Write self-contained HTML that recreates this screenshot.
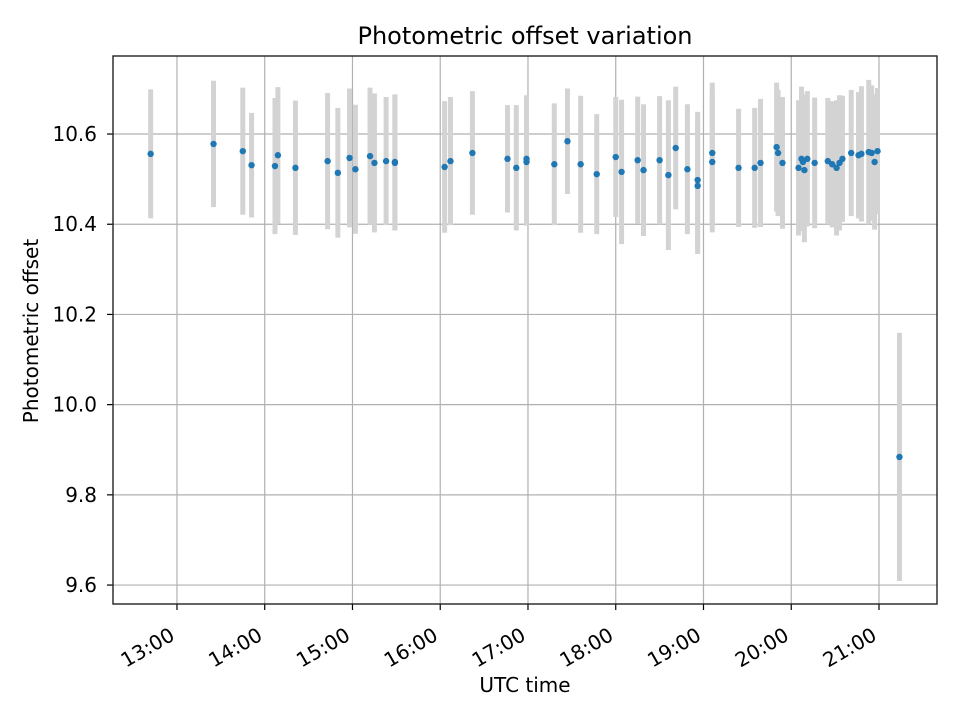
<!DOCTYPE html>
<html><head><meta charset="utf-8"><style>
html,body{margin:0;padding:0;background:#fff}
svg text{font-family:"DejaVu Sans","Liberation Sans",sans-serif;fill:#000}
</style></head><body>
<svg id="chart" width="960" height="720" viewBox="0 0 960 720" xmlns="http://www.w3.org/2000/svg">
<rect width="960" height="720" fill="#fff"/>
<text x="525" y="44" font-size="24" text-anchor="middle">Photometric offset variation</text>
<g id="grid"></g><g id="bars"></g><g id="pts"></g><g id="axes"></g>
<text x="525" y="692" font-size="20" text-anchor="middle">UTC time</text>
<text transform="translate(38,331) rotate(-90)" font-size="20" text-anchor="middle">Photometric offset</text>
</svg>
<script>
const times=["12:42","13:25","13:45","13:51","14:07","14:09","14:21","14:43","14:50","14:58","15:02","15:12","15:15","15:23","15:29","15:29","16:03","16:07","16:22","16:46","16:52","16:59","16:59","17:18","17:27","17:36","17:47","18:00","18:04","18:15","18:19","18:30","18:36","18:41","18:49","18:56","18:56","19:06","19:06","19:24","19:35","19:39","19:50","19:51","19:54","20:05","20:07","20:08","20:09","20:11","20:16","20:25","20:28","20:31","20:33","20:35","20:41","20:46","20:48","20:53","20:55","20:57","20:59","21:14"];
const values=[10.556,10.578,10.562,10.531,10.529,10.553,10.525,10.540,10.514,10.547,10.522,10.551,10.536,10.540,10.538,10.536,10.527,10.540,10.558,10.545,10.525,10.545,10.538,10.533,10.584,10.533,10.511,10.549,10.516,10.542,10.520,10.542,10.509,10.569,10.522,10.498,10.485,10.558,10.538,10.525,10.525,10.536,10.571,10.558,10.536,10.525,10.545,10.538,10.520,10.545,10.536,10.540,10.533,10.525,10.536,10.545,10.558,10.553,10.556,10.560,10.558,10.538,10.562,9.884];
const errors=[0.143,0.140,0.141,0.116,0.151,0.151,0.149,0.151,0.144,0.154,0.143,0.152,0.154,0.142,0.150,0.150,0.146,0.142,0.137,0.119,0.139,0.141,0.141,0.135,0.117,0.152,0.133,0.133,0.160,0.141,0.146,0.142,0.166,0.136,0.144,0.151,0.151,0.156,0.156,0.131,0.133,0.142,0.143,0.140,0.146,0.150,0.160,0.150,0.160,0.150,0.145,0.140,0.140,0.150,0.150,0.140,0.140,0.140,0.150,0.160,0.150,0.150,0.140,0.275];
const yTicks=[9.6,9.8,10.0,10.2,10.4,10.6];
const xTicks=["13:00","14:00","15:00","16:00","17:00","18:00","19:00","20:00","21:00"];
const L=113,R=937,T=56,B=604;
const xMin=12.271,xMax=21.661,yMin=9.558,yMax=10.773;
function hrs(s){const p=s.split(":");return +p[0]+(+p[1])/60;}
function X(s){return L+(hrs(s)-xMin)/(xMax-xMin)*(R-L);}
function Y(v){return B-(v-yMin)/(yMax-yMin)*(B-T);}
const NS="http://www.w3.org/2000/svg";
function mk(tag,attrs,parent){const e=document.createElementNS(NS,tag);for(const k in attrs)e.setAttribute(k,attrs[k]);parent.appendChild(e);return e;}
const grid=document.getElementById("grid"),axes=document.getElementById("axes"),bars=document.getElementById("bars"),pts=document.getElementById("pts");
yTicks.forEach(v=>{const y=Y(v);
 const g=mk("line",{x1:L,x2:R,y1:y,y2:y,stroke:"#b0b0b0","stroke-width":1.2},grid);
 
 
 mk("line",{x1:L-6,x2:L,y1:y,y2:y,stroke:"#000","stroke-width":1.2},axes);
 const t=mk("text",{x:L-16,y:y+7,"font-size":"20","text-anchor":"end"},axes);
 
 
 t.textContent=v.toFixed(1);
});
xTicks.forEach(s=>{const x=X(s);
 const g=mk("line",{x1:x,x2:x,y1:T,y2:B,stroke:"#b0b0b0","stroke-width":1.2},grid);
 
 
 mk("line",{x1:x,x2:x,y1:B,y2:B+6,stroke:"#000","stroke-width":1.2},axes);
 const t=mk("text",{transform:`translate(${x-1},${B+35}) rotate(-30)`,"font-size":"20","text-anchor":"end"},axes);
 
 
 t.textContent=s;
});
const frame=mk("rect",{x:L,y:T,width:R-L,height:B-T,fill:"none",stroke:"#222","stroke-width":1.4},axes);


times.forEach((s,i)=>{const x=X(s);
 const b=mk("line",{x1:x,x2:x,y1:Y(values[i]+errors[i]),y2:Y(values[i]-errors[i]),stroke:"#d3d3d3","stroke-width":5},bars);
 
 
 const c=mk("circle",{cx:x,cy:Y(values[i]),r:3.2,fill:"#1f77b4"},pts);
 
 
});
</script>
</body></html>
